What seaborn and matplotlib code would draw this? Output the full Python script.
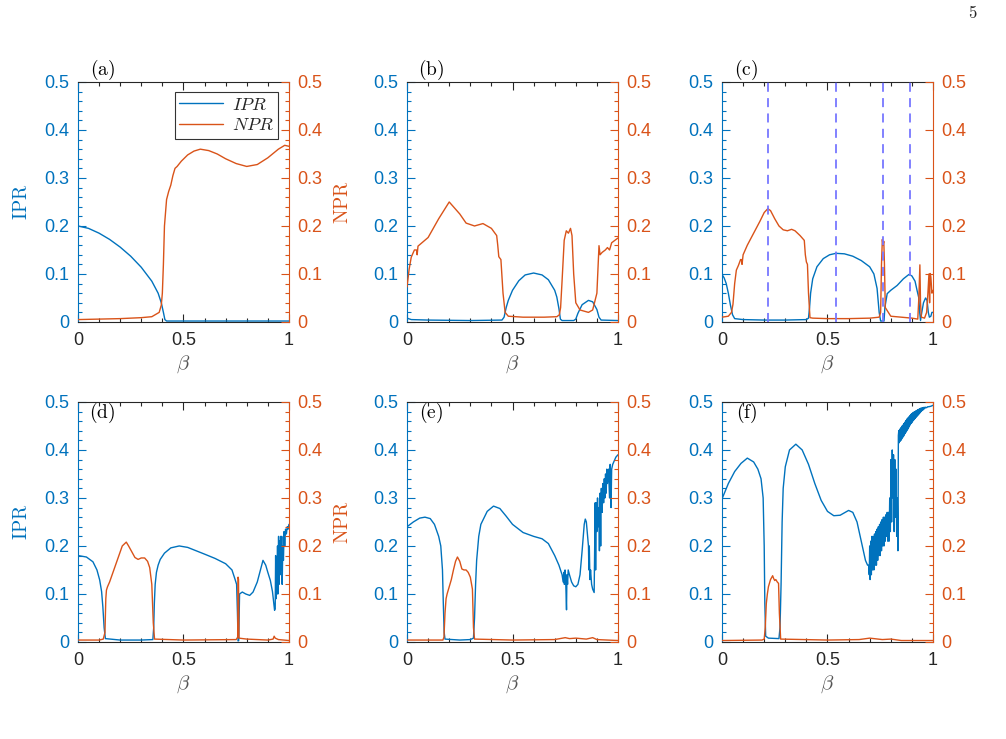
import numpy as np
import matplotlib.pyplot as plt
import seaborn as sns
from matplotlib.ticker import MultipleLocator

sns.set_theme(style="ticks")
plt.rcParams['font.family'] = ['Liberation Sans', 'DejaVu Sans']
plt.rcParams['mathtext.fontset'] = 'cm'

BLUE = '#0072BD'
ORANGE = '#D95319'
GREY = '#262626'

# ---- data ----
# (a)
a_ipr_x = [0, 0.05, 0.1, 0.15, 0.2, 0.25, 0.3, 0.35, 0.38, 0.395, 0.405, 0.412, 0.42, 0.5, 0.7, 1.0]
a_ipr_y = [0.200, 0.195, 0.185, 0.172, 0.156, 0.137, 0.114, 0.085, 0.060, 0.040, 0.020, 0.005, 0.002, 0.002, 0.002, 0.002]
a_npr_x = [0, 0.1, 0.2, 0.3, 0.35, 0.385, 0.395, 0.40, 0.405, 0.41, 0.42, 0.43, 0.44, 0.45, 0.46, 0.47, 0.49,
           0.52, 0.55, 0.58, 0.62, 0.66, 0.7, 0.75, 0.8, 0.85, 0.9, 0.95, 0.98, 1.0]
a_npr_y = [0.005, 0.006, 0.007, 0.009, 0.011, 0.020, 0.035, 0.060, 0.120, 0.200, 0.255, 0.272, 0.285, 0.305, 0.320,
           0.324, 0.335, 0.348, 0.356, 0.360, 0.357, 0.350, 0.340, 0.330, 0.324, 0.328, 0.342, 0.360, 0.368, 0.366]

# (b)
b_ipr_x = [0, 0.02, 0.1, 0.3, 0.45, 0.46, 0.47, 0.48, 0.5, 0.53, 0.56, 0.6, 0.64, 0.67, 0.7, 0.71, 0.72, 0.727,
           0.735, 0.79, 0.80, 0.81, 0.83, 0.86, 0.88, 0.90, 0.91, 0.92, 1.0]
b_ipr_y = [0.008, 0.005, 0.004, 0.003, 0.004, 0.010, 0.030, 0.045, 0.066, 0.086, 0.098, 0.102, 0.098, 0.088, 0.066,
           0.052, 0.028, 0.006, 0.003, 0.003, 0.006, 0.018, 0.036, 0.045, 0.042, 0.026, 0.010, 0.004, 0.003]
b_npr_x = [0, 0.01, 0.02, 0.035, 0.045, 0.048, 0.052, 0.1, 0.15, 0.2, 0.25, 0.28, 0.32, 0.36, 0.4, 0.425, 0.43,
           0.435, 0.445, 0.455, 0.465, 0.48, 0.55, 0.65, 0.71, 0.722, 0.728, 0.735, 0.745, 0.755, 0.765, 0.775,
           0.782, 0.79, 0.80, 0.82, 0.86, 0.88, 0.90, 0.91, 0.915, 0.925, 0.94, 0.95, 0.96, 0.97, 1.0]
b_npr_y = [0.073, 0.110, 0.135, 0.150, 0.150, 0.140, 0.158, 0.176, 0.215, 0.250, 0.225, 0.206, 0.200, 0.205,
           0.195, 0.180, 0.160, 0.136, 0.130, 0.060, 0.020, 0.012, 0.010, 0.010, 0.011, 0.015, 0.030, 0.086, 0.170,
           0.190, 0.185, 0.195, 0.180, 0.100, 0.040, 0.025, 0.020, 0.025, 0.060, 0.159, 0.140, 0.145, 0.150, 0.155,
           0.150, 0.165, 0.175]

# (c)
c_ipr_x = [0, 0.01, 0.02, 0.03, 0.04, 0.05, 0.06, 0.1, 0.2, 0.3, 0.4, 0.41, 0.415, 0.42, 0.43, 0.45, 0.48,
           0.51, 0.54, 0.58, 0.62, 0.66, 0.7, 0.72, 0.735, 0.745, 0.752, 0.768, 0.772, 0.783, 0.8, 0.83, 0.86,
           0.886, 0.9, 0.915, 0.925, 0.933, 0.937, 0.941, 0.947, 0.955, 0.965, 0.972, 0.978, 0.983, 0.99, 0.995, 1.0]
c_ipr_y = [0.099, 0.092, 0.080, 0.060, 0.035, 0.015, 0.007, 0.005, 0.004, 0.004, 0.005, 0.008, 0.030, 0.060,
           0.090, 0.115, 0.132, 0.140, 0.143, 0.142, 0.137, 0.128, 0.115, 0.100, 0.070, 0.020, 0.002, 0.002, 0.030,
           0.059, 0.066, 0.076, 0.090, 0.099, 0.096, 0.085, 0.065, 0.050, 0.020, 0.003, 0.020, 0.040, 0.050, 0.045,
           0.020, 0.010, 0.012, 0.020, 0.020]
c_npr_x = [0, 0.03, 0.045, 0.052, 0.06, 0.068, 0.078, 0.088, 0.092, 0.095, 0.1, 0.12, 0.15, 0.18, 0.2, 0.217,
           0.23, 0.25, 0.27, 0.29, 0.31, 0.33, 0.346, 0.37, 0.39, 0.395, 0.40, 0.405, 0.41, 0.417, 0.43, 0.5, 0.6,
           0.7, 0.745, 0.752, 0.756, 0.76, 0.763, 0.767, 0.77, 0.774, 0.8, 0.85, 0.9, 0.928, 0.933, 0.938, 0.941,
           0.945, 0.96, 0.97, 0.976, 0.981, 0.984, 0.987, 0.99, 0.995, 1.0]
c_npr_y = [0.010, 0.012, 0.020, 0.037, 0.080, 0.108, 0.118, 0.130, 0.130, 0.120, 0.140, 0.160, 0.185, 0.210,
           0.228, 0.236, 0.232, 0.215, 0.200, 0.192, 0.190, 0.193, 0.190, 0.180, 0.170, 0.140, 0.125, 0.120, 0.060,
           0.009, 0.008, 0.007, 0.007, 0.008, 0.010, 0.020, 0.120, 0.172, 0.160, 0.168, 0.120, 0.030, 0.012, 0.010,
           0.008, 0.006, 0.050, 0.119, 0.040, 0.010, 0.008, 0.020, 0.060, 0.100, 0.040, 0.101, 0.094, 0.060, 0.066]
c_marks = [0.217, 0.54, 0.763, 0.889]

# (d)
d_ipr_x = [0, 0.04, 0.071, 0.09, 0.103, 0.112, 0.118, 0.124, 0.13, 0.2, 0.3, 0.355, 0.359, 0.362, 0.366, 0.372,
           0.38, 0.39, 0.41, 0.44, 0.48, 0.52, 0.56, 0.6, 0.65, 0.7, 0.73, 0.745, 0.752, 0.756, 0.759, 0.762,
           0.766, 0.779, 0.795, 0.814, 0.83, 0.85, 0.865, 0.877, 0.89, 0.9, 0.912, 0.922, 0.932,
           0.935, 0.937, 0.939, 0.941, 0.943, 0.946, 0.948, 0.951, 0.953, 0.956, 0.958, 0.961, 0.963, 0.966,
           0.968, 0.971, 0.974, 0.977, 0.98, 0.984, 0.988, 0.992, 0.996, 1.0]
d_ipr_y = [0.180, 0.177, 0.167, 0.150, 0.129, 0.105, 0.073, 0.030, 0.007, 0.004, 0.004, 0.005, 0.030, 0.080,
           0.120, 0.145, 0.160, 0.172, 0.185, 0.196, 0.200, 0.197, 0.190, 0.183, 0.174, 0.163, 0.150, 0.130, 0.120,
           0.060, 0.002, 0.003, 0.100, 0.104, 0.100, 0.097, 0.104, 0.125, 0.150, 0.170, 0.160, 0.145, 0.128, 0.105,
           0.066, 0.070, 0.180, 0.090, 0.170, 0.100, 0.200, 0.100, 0.220, 0.120, 0.210, 0.140, 0.220, 0.150, 0.220,
           0.120, 0.200, 0.170, 0.230, 0.200, 0.235, 0.225, 0.240, 0.235, 0.245]
d_npr_x = [0, 0.1, 0.12, 0.128, 0.132, 0.135, 0.14, 0.15, 0.17, 0.19, 0.21, 0.229, 0.24, 0.255, 0.27, 0.285,
           0.3, 0.316, 0.33, 0.34, 0.35, 0.357, 0.363, 0.5, 0.75, 0.757, 0.759, 0.761, 0.763, 0.8, 0.9, 0.925,
           0.93, 0.935, 0.95, 1.0]
d_npr_y = [0.004, 0.004, 0.006, 0.020, 0.090, 0.108, 0.115, 0.125, 0.150, 0.175, 0.200, 0.208, 0.200, 0.188,
           0.176, 0.172, 0.175, 0.175, 0.168, 0.155, 0.120, 0.040, 0.006, 0.004, 0.005, 0.010, 0.135, 0.130, 0.008,
           0.006, 0.004, 0.006, 0.012, 0.008, 0.005, 0.003]

# (e)
e_ipr_x = [0, 0.03, 0.06, 0.085, 0.11, 0.13, 0.15, 0.16, 0.168, 0.172, 0.176, 0.18, 0.25, 0.3, 0.315, 0.32,
           0.325, 0.33, 0.34, 0.35, 0.38, 0.41, 0.44, 0.47, 0.5, 0.55, 0.6, 0.64, 0.67, 0.7, 0.72, 0.735, 0.74,
           0.743, 0.746, 0.749, 0.752, 0.756, 0.758, 0.761, 0.764, 0.77, 0.78, 0.79, 0.8, 0.81, 0.82, 0.83, 0.84,
           0.845, 0.85, 0.855, 0.86, 0.862, 0.864, 0.867, 0.87, 0.875, 0.88, 0.887, 0.892, 0.894, 0.897, 0.9,
           0.903, 0.906, 0.909, 0.912, 0.915, 0.918, 0.921, 0.925, 0.928, 0.932, 0.935, 0.938, 0.941, 0.944,
           0.947, 0.95, 0.955, 0.96, 0.963, 0.967, 0.97, 0.975, 0.98, 0.985, 0.99, 1.0]
e_ipr_y = [0.240, 0.250, 0.258, 0.260, 0.257, 0.245, 0.220, 0.200, 0.150, 0.080, 0.020, 0.006, 0.004, 0.005,
           0.008, 0.050, 0.120, 0.170, 0.220, 0.245, 0.272, 0.283, 0.278, 0.262, 0.245, 0.228, 0.220, 0.215, 0.205,
           0.180, 0.160, 0.140, 0.125, 0.145, 0.120, 0.150, 0.130, 0.067, 0.140, 0.120, 0.150, 0.140, 0.125, 0.117,
           0.115, 0.120, 0.140, 0.190, 0.245, 0.256, 0.250, 0.225, 0.200, 0.150, 0.200, 0.130, 0.150, 0.120, 0.110,
           0.103, 0.290, 0.150, 0.290, 0.230, 0.300, 0.240, 0.280, 0.190, 0.310, 0.200, 0.320, 0.270, 0.330, 0.290,
           0.340, 0.300, 0.350, 0.310, 0.360, 0.330, 0.360, 0.300, 0.370, 0.280, 0.360, 0.370, 0.375, 0.380, 0.385,
           0.390]
e_npr_x = [0, 0.17, 0.175, 0.18, 0.185, 0.19, 0.2, 0.21, 0.22, 0.23, 0.239, 0.25, 0.255, 0.26, 0.27, 0.28,
           0.29, 0.3, 0.31, 0.315, 0.32, 0.5, 0.7, 0.75, 0.77, 0.8, 0.85, 0.88, 0.9, 1.0]
e_npr_y = [0.004, 0.004, 0.010, 0.060, 0.090, 0.100, 0.115, 0.130, 0.150, 0.168, 0.177, 0.168, 0.160, 0.152,
           0.150, 0.150, 0.145, 0.135, 0.110, 0.030, 0.006, 0.004, 0.005, 0.009, 0.007, 0.008, 0.006, 0.009, 0.005,
           0.003]

# (f)
f_ipr_x = [0, 0.03, 0.06, 0.09, 0.12, 0.15, 0.17, 0.185, 0.195, 0.2, 0.203, 0.207, 0.22, 0.27, 0.275, 0.28,
           0.285, 0.29, 0.3, 0.32, 0.35, 0.38, 0.41, 0.44, 0.47, 0.5, 0.53, 0.56, 0.6, 0.62, 0.64, 0.66, 0.68, 0.69,
           0.695, 0.698, 0.70, 0.702, 0.705, 0.708, 0.711, 0.714, 0.717, 0.72, 0.723, 0.726, 0.729, 0.732, 0.735,
           0.738, 0.741, 0.744, 0.747, 0.75, 0.753, 0.756, 0.759, 0.762, 0.765, 0.768, 0.771, 0.774, 0.777, 0.78,
           0.783, 0.786, 0.789, 0.792, 0.795, 0.798, 0.801, 0.804, 0.807, 0.81, 0.813, 0.816, 0.819, 0.822, 0.825,
           0.828, 0.831, 0.834, 0.836,
           0.838, 0.840, 0.842, 0.844, 0.846, 0.848, 0.850, 0.852, 0.854, 0.856, 0.858, 0.860, 0.862, 0.864,
           0.866, 0.868, 0.870, 0.872, 0.874, 0.876, 0.878, 0.880, 0.882, 0.884, 0.886, 0.888, 0.890, 0.892,
           0.894, 0.896, 0.898, 0.900, 0.902, 0.904, 0.906, 0.908, 0.910, 0.912, 0.914, 0.916, 0.918, 0.920,
           0.922, 0.924, 0.926, 0.928, 0.930, 0.932, 0.934, 0.936, 0.938, 0.940, 0.942, 0.944, 0.946, 0.948,
           0.950, 0.952, 0.954, 0.956, 0.958, 0.960, 0.965, 0.970, 0.975, 0.980, 0.990, 1.0]
f_ipr_y = [0.298, 0.330, 0.355, 0.372, 0.383, 0.375, 0.360, 0.340, 0.300, 0.200, 0.080, 0.012, 0.008, 0.007,
           0.030, 0.120, 0.250, 0.320, 0.365, 0.400, 0.412, 0.400, 0.370, 0.330, 0.295, 0.272, 0.263, 0.264, 0.274,
           0.270, 0.250, 0.210, 0.170, 0.160, 0.160, 0.140, 0.200, 0.130, 0.210, 0.140, 0.220, 0.150, 0.220, 0.150,
           0.225, 0.160, 0.230, 0.160, 0.235, 0.170, 0.240, 0.180, 0.245, 0.180, 0.250, 0.190, 0.255, 0.200, 0.260,
           0.200, 0.260, 0.210, 0.265, 0.220, 0.270, 0.210, 0.270, 0.210, 0.300, 0.230, 0.380, 0.250, 0.400, 0.300,
           0.390, 0.230, 0.380, 0.260, 0.360, 0.220, 0.300, 0.190, 0.430,
           0.440, 0.415, 0.442, 0.418, 0.445, 0.420, 0.447, 0.423, 0.450, 0.426, 0.452, 0.428, 0.455, 0.431,
           0.457, 0.434, 0.460, 0.437, 0.462, 0.440, 0.465, 0.443, 0.467, 0.446, 0.469, 0.449, 0.471, 0.452,
           0.473, 0.455, 0.475, 0.457, 0.476, 0.460, 0.478, 0.462, 0.479, 0.464, 0.480, 0.466, 0.481, 0.468,
           0.482, 0.470, 0.483, 0.472, 0.484, 0.474, 0.485, 0.476, 0.486, 0.478, 0.487, 0.480, 0.487, 0.482,
           0.488, 0.483, 0.488, 0.485, 0.489, 0.486, 0.489, 0.488, 0.490, 0.490, 0.491, 0.493]
f_npr_x = [0, 0.19, 0.2, 0.205, 0.21, 0.215, 0.22, 0.23, 0.24, 0.245, 0.25, 0.255, 0.262, 0.268, 0.272, 0.278,
           0.5, 0.65, 0.7, 0.72, 0.76, 0.8, 0.85, 1.0]
f_npr_y = [0.003, 0.004, 0.006, 0.030, 0.080, 0.100, 0.115, 0.130, 0.138, 0.132, 0.128, 0.130, 0.125, 0.122,
           0.060, 0.006, 0.004, 0.005, 0.008, 0.007, 0.005, 0.006, 0.003, 0.003]

panels = [
    ('(a)', a_ipr_x, a_ipr_y, a_npr_x, a_npr_y),
    ('(b)', b_ipr_x, b_ipr_y, b_npr_x, b_npr_y),
    ('(c)', c_ipr_x, c_ipr_y, c_npr_x, c_npr_y),
    ('(d)', d_ipr_x, d_ipr_y, d_npr_x, d_npr_y),
    ('(e)', e_ipr_x, e_ipr_y, e_npr_x, e_npr_y),
    ('(f)', f_ipr_x, f_ipr_y, f_npr_x, f_npr_y),
]

y_ticks = [0, 0.1, 0.2, 0.3, 0.4, 0.5]
y_labels = ['0', '0.1', '0.2', '0.3', '0.4', '0.5']
x_ticks = [0, 0.5, 1]
x_labels = ['0', '0.5', '1']

fig = plt.figure(figsize=(10.06, 7.39), dpi=100)
lefts = [0.0775, 0.4046, 0.7177]
bottoms = [0.5643, 0.1313]
W, H = 0.2097, 0.3248

for i, (tag, ix, iy, nx, ny) in enumerate(panels):
    row, col = divmod(i, 3)
    ax = fig.add_axes([lefts[col], bottoms[row], W, H])
    ax2 = ax.twinx()

    sns.lineplot(x=ix, y=iy, ax=ax, color=BLUE, linewidth=1.0, sort=False, estimator=None, label='$IPR$', legend=False)
    sns.lineplot(x=nx, y=ny, ax=ax2, color=ORANGE, linewidth=1.0, sort=False, estimator=None, label='$NPR$', legend=False)

    if tag == '(c)':
        for xm in c_marks:
            ax2.axvline(xm, color='#7777FF', linestyle=(0, (5, 3.5)), linewidth=1.3)

    for a in (ax, ax2):
        a.set_xlim(0, 1)
        a.set_ylim(0, 0.5)
        a.set_xlabel('')
        a.set_ylabel('')

    ax.set_xticks(x_ticks)
    ax.set_xticklabels(x_labels)
    ax.xaxis.set_minor_locator(MultipleLocator(0.1))
    ax.set_yticks(y_ticks)
    ax.set_yticklabels(y_labels)
    ax.yaxis.set_minor_locator(MultipleLocator(0.02))
    ax2.set_yticks(y_ticks)
    ax2.set_yticklabels(y_labels)
    if tag != '(c)':
        ax2.yaxis.set_minor_locator(MultipleLocator(0.02))

    ax.tick_params(axis='x', which='both', direction='in', top=True, bottom=True, colors=GREY,
                   labelsize=13, pad=7, width=0.8)
    ax.tick_params(axis='y', which='both', direction='in', left=True, right=False, colors=BLUE,
                   labelsize=13, pad=6, width=0.8)
    ax2.tick_params(axis='y', which='both', direction='in', right=True, left=False, colors=ORANGE,
                    labelsize=13, pad=6, width=0.8)
    for a in (ax, ax2):
        a.tick_params(which='major', length=5.5)
        a.tick_params(which='minor', length=2.8)

    ax.spines['left'].set_color(BLUE)
    ax.spines['right'].set_visible(False)
    ax.spines['top'].set_color(GREY)
    ax.spines['bottom'].set_color(GREY)
    ax2.spines['right'].set_color(ORANGE)
    ax2.spines['left'].set_visible(False)
    ax2.spines['top'].set_visible(False)
    ax2.spines['bottom'].set_visible(False)
    for a in (ax, ax2):
        for s in a.spines.values():
            s.set_linewidth(0.8)

    ty = 1.05 if row == 0 else 0.954
    ax.text(0.115, ty, r'$\mathrm{' + tag + '}$', transform=ax.transAxes, ha='center', va='center',
            fontsize=14, color='black')
    ax.text(0.5, -0.175, r'$\beta$', transform=ax.transAxes, ha='center', va='center', fontsize=15,
            color='#555555')

    if col == 0:
        ax.text(-0.265, 0.5, r'$\mathrm{IPR}$', transform=ax.transAxes, ha='center', va='center',
                rotation=90, fontsize=14, color=BLUE)
        ax.text(1.256, 0.5, r'$\mathrm{NPR}$', transform=ax.transAxes, ha='center', va='center',
                rotation=90, fontsize=14, color=ORANGE)

    if tag == '(a)':
        handles = [ax.get_lines()[0], ax2.get_lines()[0]]
        leg = ax2.legend(handles, ['$IPR$', '$NPR$'], loc='upper right', bbox_to_anchor=(0.948, 0.958),
                         borderaxespad=0, frameon=True, fancybox=False, edgecolor='black', fontsize=13,
                         handlelength=2.4, borderpad=0.25, labelspacing=0.2, handletextpad=0.5)
        leg.get_frame().set_linewidth(0.8)

fig.text(973 / 1006, 1 - 13 / 739, r'$\mathrm{5}$', ha='center', va='center', fontsize=12)

fig.savefig('out.png', dpi=100)
